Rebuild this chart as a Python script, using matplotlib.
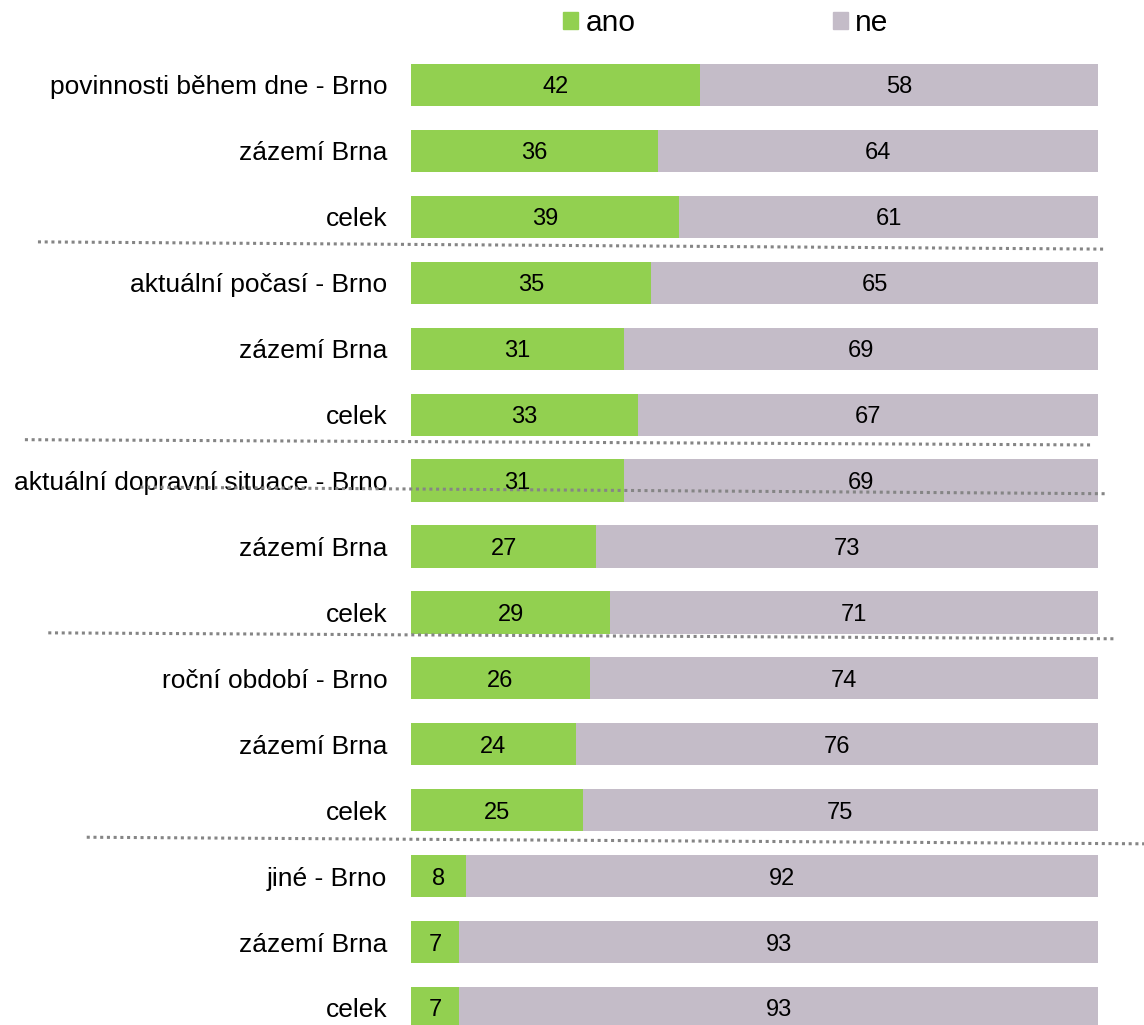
import matplotlib.pyplot as plt
from matplotlib.patches import Patch

plt.rcParams['font.family'] = ['Liberation Sans', 'DejaVu Sans']

categories = [
    "povinnosti během dne - Brno", "zázemí Brna", "celek",
    "aktuální počasí - Brno", "zázemí Brna", "celek",
    "aktuální dopravní situace - Brno", "zázemí Brna", "celek",
    "roční období - Brno", "zázemí Brna", "celek",
    "jiné - Brno", "zázemí Brna", "celek",
]
ano = [42, 36, 39, 35, 31, 33, 31, 27, 29, 26, 24, 25, 8, 7, 7]
ne = [58, 64, 61, 65, 69, 67, 69, 73, 71, 74, 76, 75, 92, 93, 93]

# dotted group separators: (x0, y0, x1, y1) in data units
separators = [
    (-54.3, 2.38, 101.2, 2.49),
    (-56.2, 5.38, 99.1, 5.46),
    (-39.4, 6.10, 101.5, 6.20),
    (-52.8, 8.31, 102.6, 8.40),
    (-47.2, 11.41, 107.0, 11.51),
]

GREEN = "#92D050"
GREY = "#C4BCC8"

fig = plt.figure(figsize=(11.44, 10.25), dpi=100)
ax = fig.add_axes([411 / 1144, 0, (1098 - 411) / 1144, 1 - 52 / 1025])

rows = list(range(len(categories)))
ax.barh(rows, ano, height=0.64, color=GREEN)
ax.barh(rows, ne, left=ano, height=0.64, color=GREY)

for r, a, n in zip(rows, ano, ne):
    ax.text(a / 2, r, str(a), ha="center", va="center_baseline", fontsize=17)
    ax.text(a + n / 2, r, str(n), ha="center", va="center_baseline", fontsize=17)

ax.set_xlim(0, 100)
ax.set_ylim(14.258, -0.5)
ax.set_yticks(rows)
ax.set_yticklabels(categories, fontsize=19, va="center_baseline")
ax.tick_params(axis="y", length=0, pad=17)
ax.set_xticks([])
for s in ax.spines.values():
    s.set_visible(False)

for x0, y0, x1, y1 in separators:
    ax.plot([x0, x1], [y0, y1], color="#858585", linestyle=(0, (1, 1.2)),
            linewidth=2.2, clip_on=False)

handles = [Patch(color=GREEN, label="ano"), Patch(color=GREY, label="ne")]
fig.legend(handles=handles, loc="center", bbox_to_anchor=(726 / 1144, 1 - 23 / 1025),
           ncol=2, frameon=False, fontsize=21.5, handlelength=0.5, handleheight=0.5,
           handletextpad=0.25, columnspacing=6.6)

fig.savefig("out.png", dpi=100)
